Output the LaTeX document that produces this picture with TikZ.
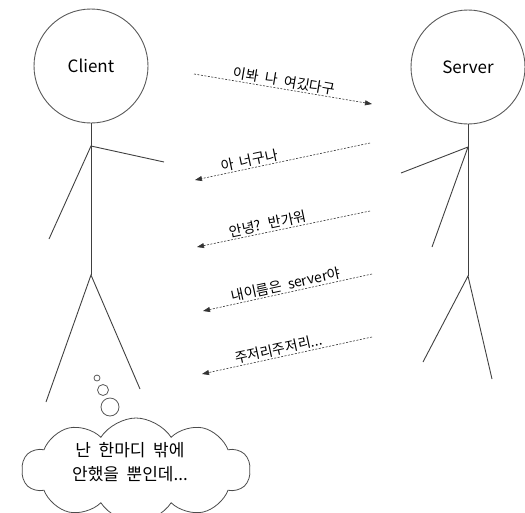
\documentclass[tikz,border=0pt]{standalone}
\usepackage{fontspec}
\setmainfont[WordSpace=2]{Noto Sans CJK KR}
\usetikzlibrary{arrows.meta,shapes.symbols}

\begin{document}
\begin{tikzpicture}[x=1pt,y=-1pt,
  stick/.style={draw=black!75, line width=0.9pt},
  head/.style={circle, draw=black!65, line width=0.9pt, minimum size=114pt,
    inner sep=0pt, font=\fontsize{17}{20}\selectfont},
  msg/.style={draw=black!80, line width=0.6pt, dash pattern=on 2pt off 1.5pt,
    -{Triangle[length=7pt,width=5pt]}},
  msglabel/.style={font=\fontsize{14}{16}\selectfont, sloped, above, inner sep=1.5pt},
  bubble/.style={circle, draw=black!65, line width=0.8pt, inner sep=0pt},
  thought/.style={cloud, draw=black!70, line width=0.8pt, cloud puffs=10,
    cloud puff arc=115, cloud ignores aspect, minimum width=228pt,
    minimum height=104pt, inner sep=0pt},
  thoughttext/.style={align=center, font=\fontsize{17}{24}\selectfont, inner sep=0pt},
]
\useasboundingbox (0,0) rectangle (525,512);

% client figure
\node[head] (client) at (91,66) {Client};
\coordinate (cShoulder) at (91,146);
\coordinate (cHip) at (91,275);
\coordinate (cHandR) at (164,162);
\coordinate (cHandL) at (49,239);
\coordinate (cFootL) at (46,402);
\coordinate (cFootR) at (140,389);
\draw[stick] (client.south) -- (cHip);
\draw[stick] (cHandL) -- (cShoulder) -- (cHandR);
\draw[stick] (cFootL) -- (cHip) -- (cFootR);

% server figure
\node[head] (server) at (468,67) {Server};
\coordinate (sShoulder) at (468,147);
\coordinate (sHip) at (468,276);
\coordinate (sHandL) at (401,173);
\coordinate (sHandR) at (432,247);
\coordinate (sFootL) at (423,362);
\coordinate (sFootR) at (492,379);
\draw[stick] (server.south) -- (sHip);
\draw[stick] (sHandL) -- (sShoulder) -- (sHandR);
\draw[stick] (sFootL) -- (sHip) -- (sFootR);

% message ends
\coordinate (a1) at (194,74);  \coordinate (b1) at (372,104);
\coordinate (a2) at (370,143); \coordinate (b2) at (195,180);
\coordinate (a3) at (370,211); \coordinate (b3) at (197,247);
\coordinate (a4) at (372,274); \coordinate (b4) at (203,311);
\coordinate (a5) at (372,337); \coordinate (b5) at (202,374);

% messages
\draw[msg] (a1) -- node[msglabel, pos=0.5] (l1) {이봐 나 여깄다구} (b1);
\draw[msg] (a2) -- node[msglabel, pos=0.68] (l2) {아 너구나} (b2);
\draw[msg] (a3) -- node[msglabel, pos=0.58] (l3) {안녕? 반가워} (b3);
\draw[msg] (a4) -- node[msglabel, pos=0.5] (l4) {내이름은 server야} (b4);
\draw[msg] (a5) -- node[msglabel, pos=0.54] (l5) {주저리주저리...} (b5);

% thought bubble
\node[bubble, minimum size=6pt] (t1) at (97,378) {};
\node[bubble, minimum size=11pt] (t2) at (103,390) {};
\node[bubble, minimum size=18pt] (t3) at (110,407) {};
\node[thought] (think) at (136,470) {};
\node[thoughttext] (thinktext) at (130,462) {난 한마디 밖에\\안했을 뿐인데...};
\end{tikzpicture}
\end{document}
